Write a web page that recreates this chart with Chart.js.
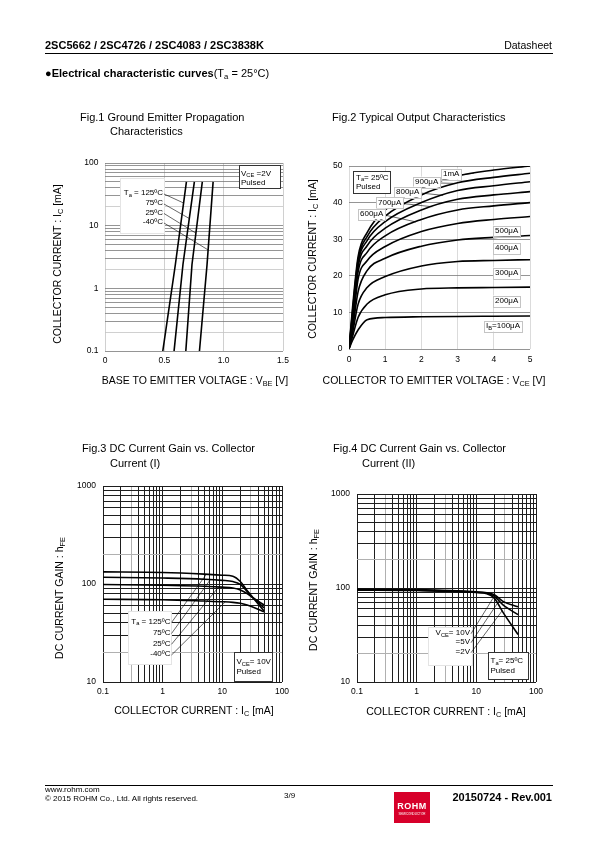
<!DOCTYPE html>
<html>
<head>
<meta charset="utf-8">
<script src="https://cdn.jsdelivr.net/npm/chart.js@4.4.1/dist/chart.umd.min.js"></script>
<style>
  body { margin: 0; width: 595px; height: 842px; position: relative; background: #fff; overflow: hidden;
         font-family: "Liberation Sans", Arial, Helvetica, sans-serif; color: #000; }
  canvas { position: absolute; left: 0; top: 0; }
  .t { position: absolute; white-space: nowrap; line-height: 1; }
  .b { font-weight: bold; }
  .ax { font-size: 10.5px; }
  .h { transform: translateX(-50%); }
  .v { transform: translate(-50%, -50%) rotate(-90deg); }
  sub { font-size: 70%; vertical-align: baseline; position: relative; top: 0.3em; }
  .rule { position: absolute; left: 45px; width: 508px; height: 1px; background: #000; }
  .logo { position: absolute; left: 394px; top: 792px; width: 36px; height: 31px; background: #d7002a; color: #fff; text-align: center; }
</style>
</head>
<body>
<canvas id="fig1" width="595" height="842"></canvas>
<canvas id="fig2" width="595" height="842"></canvas>
<canvas id="fig3" width="595" height="842"></canvas>
<canvas id="fig4" width="595" height="842"></canvas>

<div class="t b" style="left:45px;top:39.5px;font-size:11px">2SC5662 / 2SC4726 / 2SC4083 / 2SC3838K</div>
<div class="t" style="right:43px;top:40px;font-size:10.5px">Datasheet</div>
<div class="rule" style="top:52.5px"></div>
<div class="t" style="left:45px;top:68px;font-size:11px"><b>●Electrical characteristic curves</b>(T<sub>a</sub> = 25°C)</div>

<div class="t" style="left:80px;top:112px;font-size:11px">Fig.1 Ground Emitter Propagation</div>
<div class="t" style="left:110px;top:126px;font-size:11px">Characteristics</div>
<div class="t" style="left:332px;top:112px;font-size:11px">Fig.2 Typical Output Characteristics</div>
<div class="t" style="left:82px;top:443px;font-size:11px">Fig.3 DC Current Gain vs. Collector</div>
<div class="t" style="left:110px;top:458px;font-size:11px">Current (I)</div>
<div class="t" style="left:333px;top:443px;font-size:11px">Fig.4 DC Current Gain vs. Collector</div>
<div class="t" style="left:362px;top:458px;font-size:11px">Current (II)</div>

<div class="t ax v" style="left:57px;top:264px">COLLECTOR CURRENT : I<sub>C</sub> [mA]</div>
<div class="t ax h" style="left:195px;top:375px">BASE TO EMITTER VOLTAGE : V<sub>BE</sub> [V]</div>
<div class="t ax v" style="left:312px;top:259px">COLLECTOR CURRENT : I<sub>C</sub> [mA]</div>
<div class="t ax h" style="left:434px;top:375px">COLLECTOR TO EMITTER VOLTAGE : V<sub>CE</sub> [V]</div>
<div class="t ax v" style="left:59px;top:598px">DC CURRENT GAIN : h<sub>FE</sub></div>
<div class="t ax h" style="left:194px;top:705px">COLLECTOR CURRENT : I<sub>C</sub> [mA]</div>
<div class="t ax v" style="left:313px;top:590px">DC CURRENT GAIN : h<sub>FE</sub></div>
<div class="t ax h" style="left:446px;top:705.5px">COLLECTOR CURRENT : I<sub>C</sub> [mA]</div>

<div class="rule" style="top:784.5px"></div>
<div class="t" style="left:45px;top:786px;font-size:8px">www.rohm.com</div>
<div class="t" style="left:45px;top:795px;font-size:8px">© 2015 ROHM Co., Ltd. All rights reserved.</div>
<div class="t" style="left:284px;top:792px;font-size:8px">3/9</div>
<div class="logo">
  <div class="t b" style="left:0;width:36px;top:10px;font-size:9px;letter-spacing:0.5px">ROHM</div>
  <div class="t" style="left:0;width:36px;top:21px;font-size:3px">SEMICONDUCTOR</div>
</div>
<div class="t b" style="right:43px;top:791.5px;font-size:11px">20150724 - Rev.001</div>

<script>
// Fig.1  collector current (mA) against base-emitter voltage (V)
const fig1Ic = [0.1, 2.4, 50];
const fig1Vbe125 = [0.487, 0.593, 0.686];
const fig1Vbe75 = [0.582, 0.657, 0.753];
const fig1Vbe25 = [0.681, 0.733, 0.820];
const fig1VbeM40 = [0.796, 0.860, 0.911];
const fig1XTicks = [0, 0.5, 1.0, 1.5];
const fig1XLabels = ["0", "0.5", "1.0", "1.5"];
const fig1YTicks = [0.1, 0.2, 0.3, 0.4, 0.5, 0.6, 0.7, 0.8, 0.9, 1, 2, 3, 4, 5, 6, 7, 8, 9,
  10, 20, 30, 40, 50, 60, 70, 80, 90, 100];
const fig1YLabelValues = [0.1, 1, 10, 100];
const fig1YLabels = ["0.1", "1", "10", "100"];

// Fig.2  collector current (mA) against collector-emitter voltage (V), one curve per base current
const fig2Vce = [0, 0.1, 0.25, 0.5, 1, 2, 3, 4, 5];
const fig2Ib100 = [0, 2.4, 5.2, 8.0, 8.6, 8.8, 8.9, 8.95, 9.0];
const fig2Ib200 = [0, 3.5, 8.6, 12.3, 14.8, 16.4, 16.7, 16.8, 16.9];
const fig2Ib300 = [0, 4.5, 12.2, 16.8, 19.8, 22.7, 23.9, 24.2, 24.4];
const fig2Ib400 = [0, 5.5, 15.6, 21.4, 24.8, 28.1, 29.8, 30.5, 31.0];
const fig2Ib500 = [0, 6.5, 19.0, 24.1, 28.0, 32.1, 34.3, 35.4, 36.2];
const fig2Ib600 = [0, 7.5, 21.0, 26.4, 30.9, 35.4, 38.0, 39.1, 40.0];
const fig2Ib700 = [0, 8.5, 22.4, 28.2, 33.0, 38.0, 40.9, 42.1, 43.0];
const fig2Ib800 = [0, 9.5, 23.4, 29.6, 34.8, 40.0, 43.3, 44.6, 45.7];
const fig2Ib900 = [0, 10.5, 24.3, 30.7, 36.3, 42.1, 45.4, 46.9, 48.0];
const fig2Ib1000 = [0, 11.5, 25.2, 31.8, 38.0, 43.9, 47.3, 48.9, 50.0];
const fig2XTicks = [0, 1, 2, 3, 4, 5];
const fig2XLabels = ["0", "1", "2", "3", "4", "5"];
const fig2YTicks = [0, 10, 20, 30, 40, 50];
const fig2YLabels = ["0", "10", "20", "30", "40", "50"];

// Fig.3  hFE against collector current (mA), VCE = 10V, four temperatures
const fig3Ic = [0.1, 1, 5, 10, 15, 20, 26, 33, 50];
const fig3Hfe125 = [133, 131, 126, 123, 120, 106, 86, 72, 53];
const fig3Hfe75 = [117, 115, 112, 109, 106, 99, 84, 72, 57];
const fig3Hfe25 = [99, 97, 95, 93, 91, 87, 80, 72, 61];
const fig3HfeM40 = [70, 69, 67, 66, 65, 63.5, 61, 58, 52];

// Fig.4  hFE against collector current (mA), Ta = 25C, three VCE
const fig4Ic = [0.1, 1, 10, 15, 20, 28, 50];
const fig4Hfe10V = [97, 96, 91, 89, 85, 72, 63];
const fig4Hfe5V = [96, 95, 90, 88, 82, 66, 52];
const fig4Hfe2V = [95, 94, 89.5, 87, 78, 55, 32];

const gainXTicks = [0.1, 0.2, 0.3, 0.4, 0.5, 0.6, 0.7, 0.8, 0.9, 1, 2, 3, 4, 5, 6, 7, 8, 9,
  10, 20, 30, 40, 50, 60, 70, 80, 90, 100];
const gainXLabelValues = [0.1, 1, 10, 100];
const gainXLabels = ["0.1", "1", "10", "100"];
const gainYTicks = [10, 20, 30, 40, 50, 60, 70, 80, 90, 100, 200, 300, 400, 500, 600, 700, 800, 900, 1000];
const gainYLabelValues = [10, 100, 1000];
const gainYLabels = ["10", "100", "1000"];

const FONT = '"Liberation Sans", Arial, Helvetica, sans-serif';
Chart.defaults.font.family = FONT;
Chart.defaults.color = "#000";

const toPoints = (xs, ys) => xs.map((x, i) => ({ x, y: ys[i] }));

const curve = (data, smooth) => ({
  data,
  showLine: true,
  pointRadius: 0,
  borderColor: "#000",
  backgroundColor: "#000",
  borderWidth: 1.6,
  fill: false,
  tension: 0,
  cubicInterpolationMode: smooth ? "monotone" : "default",
});

const significand = (v) => Math.round(v / Math.pow(10, Math.floor(Math.log10(v) + 1e-9)));

const labelFor = (values, texts) => (v) => {
  const k = values.findIndex((u) => Math.abs(u - v) < 1e-9 * Math.max(1, Math.abs(u)));
  return k < 0 ? "" : texts[k];
};

const axis = ({ type, min, max, position, ticks, labelValues, labels, pad, gridColor, gridWidth = 0.8 }) => ({
  type, min, max, position,
  afterBuildTicks: (s) => { s.ticks = ticks.map((value) => ({ value })); },
  afterFit: (s) => { if (position === "left") s.width = 30; else s.height = 20; },
  ticks: {
    autoSkip: false, maxRotation: 0, minRotation: 0, padding: pad,
    font: { size: 8.5 }, color: "#000",
    callback: labelFor(labelValues, labels),
  },
  grid: {
    drawTicks: false, lineWidth: gridWidth,
    color: (c) => gridColor(c.tick ? c.tick.value : 1),
  },
  border: { display: false },
});

// rich text: "V_{CE}" draws CE as a subscript
const parseRich = (s) => {
  const out = [];
  const re = /_\{([^}]*)\}/g;
  let last = 0, m;
  while ((m = re.exec(s))) {
    if (m.index > last) out.push([s.slice(last, m.index), false]);
    out.push([m[1], true]);
    last = re.lastIndex;
  }
  if (last < s.length) out.push([s.slice(last), false]);
  return out;
};

const setFont = (ctx, size, sub) => { ctx.font = `${sub ? size * 0.72 : size}px ${FONT}`; };

const richWidth = (ctx, parts, size) =>
  parts.reduce((w, [t, sub]) => { setFont(ctx, size, sub); return w + ctx.measureText(t).width; }, 0);

const drawRich = (ctx, parts, x, y, size) => {
  let cx = x;
  parts.forEach(([t, sub]) => {
    setFont(ctx, size, sub);
    ctx.fillText(t, cx, sub ? y + size * 0.28 : y);
    cx += ctx.measureText(t).width;
  });
};

// pixel on a drawn curve where its x (or y) axis reaches a value
const curvePoint = (chart, ds, value, along) => {
  const pts = chart.getDatasetMeta(ds).data;
  const p = chart.scales[along].getPixelForValue(value);
  for (let i = 1; i < pts.length; i++) {
    const a = pts[i - 1], b = pts[i];
    const pa = a[along], pb = b[along];
    if ((p - pa) * (p - pb) <= 0 && pa !== pb) {
      const f = (p - pa) / (pb - pa);
      return along === "y" ? [a.x + f * (b.x - a.x), p] : [p, a.y + f * (b.y - a.y)];
    }
  }
  const last = pts[pts.length - 1];
  return [last.x, last.y];
};

const notesPlugin = {
  id: "notes",
  afterDatasetsDraw(chart, args, opts) {
    const ctx = chart.ctx;
    const size = 8;
    ctx.save();
    ctx.textBaseline = "middle";
    (opts.boxes || []).forEach(({ rect: [x0, y0, x1, y1], stroke }) => {
      ctx.fillStyle = "#fff";
      ctx.fillRect(x0, y0, x1 - x0, y1 - y0);
      ctx.strokeStyle = stroke;
      ctx.lineWidth = 1;
      ctx.strokeRect(Math.round(x0) + 0.5, Math.round(y0) + 0.5, Math.round(x1 - x0), Math.round(y1 - y0));
    });
    const texts = (opts.texts || []).map((t) => {
      const parts = parseRich(t.s);
      const w = richWidth(ctx, parts, size);
      const x0 = t.align === "right" ? t.x - w : t.x;
      return { ...t, parts, x0, x1: x0 + w };
    });
    ctx.strokeStyle = "#000";
    ctx.lineWidth = 0.6;
    (opts.leaders || []).forEach(({ text, ds, at, along }) => {
      const t = texts[text];
      const [tx, ty] = curvePoint(chart, ds, at, along);
      ctx.beginPath();
      ctx.moveTo(t.x1 + 1, t.y + 1);
      ctx.lineTo(tx, ty);
      ctx.stroke();
    });
    texts.forEach((t) => {
      if (t.box) {
        ctx.fillStyle = "#fff";
        ctx.fillRect(t.x0 - 2, t.y - 5.5, t.x1 - t.x0 + 4, 11);
        ctx.strokeStyle = t.box;
        ctx.lineWidth = 1;
        ctx.strokeRect(Math.round(t.x0 - 2) + 0.5, Math.round(t.y - 5.5) + 0.5, Math.round(t.x1 - t.x0 + 4), 11);
      }
      ctx.fillStyle = "#000";
      drawRich(ctx, t.parts, t.x0, t.y, size);
    });
    ctx.restore();
  },
};

const frame = ({ left, top, right, bottom }) => ({
  padding: { left: left - 30, top, right: 595 - right, bottom: 842 - bottom - 20 },
});

const makeChart = (id, area, datasets, x, y, notes) =>
  new Chart(document.getElementById(id), {
    type: "scatter",
    data: { datasets },
    options: {
      responsive: false,
      animation: false,
      devicePixelRatio: 1,
      layout: frame(area),
      scales: { x, y },
      plugins: { legend: { display: false }, tooltip: { enabled: false }, notes },
    },
    plugins: [notesPlugin],
  });

// Fig.1
makeChart("fig1", { left: 105, top: 163, right: 283, bottom: 351 },
  [fig1Vbe125, fig1Vbe75, fig1Vbe25, fig1VbeM40].map((v) => curve(toPoints(v, fig1Ic), false)),
  axis({ type: "linear", min: 0, max: 1.5, position: "bottom", ticks: fig1XTicks,
    labelValues: fig1XTicks, labels: fig1XLabels, pad: 5, gridColor: () => "#c4c4c4" }),
  axis({ type: "logarithmic", min: 0.1, max: 100, position: "left", ticks: fig1YTicks,
    labelValues: fig1YLabelValues, labels: fig1YLabels, pad: 6.5,
    gridColor: (v) => (significand(v) === 2 ? "#c4c4c4" : "#7a7a7a") }),
  {
    boxes: [
      { rect: [239, 165, 280, 188], stroke: "#333" },
      { rect: [120, 178, 164, 233], stroke: "#e4e4e4" },
    ],
    texts: [
      { s: "V_{CE} =2V", x: 241, y: 173.5 },
      { s: "Pulsed", x: 241, y: 182.5 },
      { s: "T_{a} = 125ºC", x: 163, y: 193, align: "right" },
      { s: "75ºC", x: 163, y: 203, align: "right" },
      { s: "25ºC", x: 163, y: 212.5, align: "right" },
      { s: "-40ºC", x: 163, y: 222, align: "right" },
    ],
    leaders: [
      { text: 2, ds: 0, at: 23, along: "y" },
      { text: 3, ds: 1, at: 13, along: "y" },
      { text: 4, ds: 2, at: 7.6, along: "y" },
      { text: 5, ds: 3, at: 4.1, along: "y" },
    ],
  });

// Fig.2
makeChart("fig2", { left: 349, top: 166, right: 530, bottom: 349 },
  [fig2Ib100, fig2Ib200, fig2Ib300, fig2Ib400, fig2Ib500, fig2Ib600, fig2Ib700, fig2Ib800, fig2Ib900, fig2Ib1000]
    .map((ic) => curve(toPoints(fig2Vce, ic), true)),
  axis({ type: "linear", min: 0, max: 5, position: "bottom", ticks: fig2XTicks,
    labelValues: fig2XTicks, labels: fig2XLabels, pad: 6, gridColor: () => "#d2d2d2" }),
  axis({ type: "linear", min: 0, max: 50, position: "left", ticks: fig2YTicks,
    labelValues: fig2YTicks, labels: fig2YLabels, pad: 6.5, gridColor: () => "#7a7a7a" }),
  {
    boxes: [{ rect: [353, 171, 390, 193], stroke: "#333" }],
    texts: [
      { s: "T_{a}= 25ºC", x: 356, y: 177.5 },
      { s: "Pulsed", x: 356, y: 186.5 },
      { s: "1mA", x: 443, y: 174, box: "#c4c4c4" },
      { s: "900μA", x: 415, y: 182, box: "#c4c4c4" },
      { s: "800μA", x: 396, y: 192, box: "#c4c4c4" },
      { s: "700μA", x: 378, y: 202.5, box: "#c4c4c4" },
      { s: "600μA", x: 360, y: 214, box: "#c4c4c4" },
      { s: "500μA", x: 495, y: 231, box: "#c4c4c4" },
      { s: "400μA", x: 495, y: 248, box: "#c4c4c4" },
      { s: "300μA", x: 495, y: 273, box: "#c4c4c4" },
      { s: "200μA", x: 495, y: 301, box: "#c4c4c4" },
      { s: "I_{B}=100μA", x: 486, y: 326, box: "#c4c4c4" },
    ],
    leaders: [
      { text: 2, ds: 9, at: 3.45, along: "x" },
      { text: 3, ds: 8, at: 2.95, along: "x" },
      { text: 4, ds: 7, at: 2.6, along: "x" },
      { text: 5, ds: 6, at: 2.3, along: "x" },
      { text: 6, ds: 5, at: 1.85, along: "x" },
    ],
  });

const gainGridX = (v) => (significand(v) === 3 ? "#b0b0b0" : "#1e1e1e");
const gainGridY = (v) => (significand(v) === 2 ? "#b0b0b0" : "#1e1e1e");

// Fig.3
makeChart("fig3", { left: 103, top: 486, right: 282, bottom: 682 },
  [fig3Hfe125, fig3Hfe75, fig3Hfe25, fig3HfeM40].map((h) => curve(toPoints(fig3Ic, h), true)),
  axis({ type: "logarithmic", min: 0.1, max: 100, position: "bottom", ticks: gainXTicks,
    labelValues: gainXLabelValues, labels: gainXLabels, pad: 5, gridColor: gainGridX, gridWidth: 1 }),
  axis({ type: "logarithmic", min: 10, max: 1000, position: "left", ticks: gainYTicks,
    labelValues: gainYLabelValues, labels: gainYLabels, pad: 7, gridColor: gainGridY, gridWidth: 1 }),
  {
    boxes: [
      { rect: [128, 611, 171, 664], stroke: "#e4e4e4" },
      { rect: [234, 652, 272, 681], stroke: "#333" },
    ],
    texts: [
      { s: "T_{a} = 125ºC", x: 170.5, y: 621.5, align: "right" },
      { s: "75ºC", x: 170.5, y: 632.5, align: "right" },
      { s: "25ºC", x: 170.5, y: 643.3, align: "right" },
      { s: "-40ºC", x: 170.5, y: 654, align: "right" },
      { s: "V_{CE}= 10V", x: 236.5, y: 662 },
      { s: "Pulsed", x: 236.5, y: 672 },
    ],
    leaders: [
      { text: 0, ds: 0, at: 5.4, along: "x" },
      { text: 1, ds: 1, at: 6.3, along: "x" },
      { text: 2, ds: 2, at: 8.7, along: "x" },
      { text: 3, ds: 3, at: 11.2, along: "x" },
    ],
  });

// Fig.4
makeChart("fig4", { left: 357, top: 494, right: 536, bottom: 682 },
  [fig4Hfe10V, fig4Hfe5V, fig4Hfe2V].map((h) => curve(toPoints(fig4Ic, h), true)),
  axis({ type: "logarithmic", min: 0.1, max: 100, position: "bottom", ticks: gainXTicks,
    labelValues: gainXLabelValues, labels: gainXLabels, pad: 5, gridColor: gainGridX, gridWidth: 1 }),
  axis({ type: "logarithmic", min: 10, max: 1000, position: "left", ticks: gainYTicks,
    labelValues: gainYLabelValues, labels: gainYLabels, pad: 7, gridColor: gainGridY, gridWidth: 1 }),
  {
    boxes: [
      { rect: [428, 627, 472, 665], stroke: "#e4e4e4" },
      { rect: [488, 652, 528, 679], stroke: "#333" },
    ],
    texts: [
      { s: "V_{CE}= 10V", x: 470, y: 632.7, align: "right" },
      { s: "=5V", x: 470, y: 641.7, align: "right" },
      { s: "=2V", x: 470, y: 651.7, align: "right" },
      { s: "T_{a}= 25ºC", x: 490.5, y: 661 },
      { s: "Pulsed", x: 490.5, y: 670.5 },
    ],
    leaders: [
      { text: 0, ds: 0, at: 20.5, along: "x" },
      { text: 1, ds: 1, at: 24, along: "x" },
      { text: 2, ds: 2, at: 27, along: "x" },
    ],
  });
</script>
</body>
</html>
